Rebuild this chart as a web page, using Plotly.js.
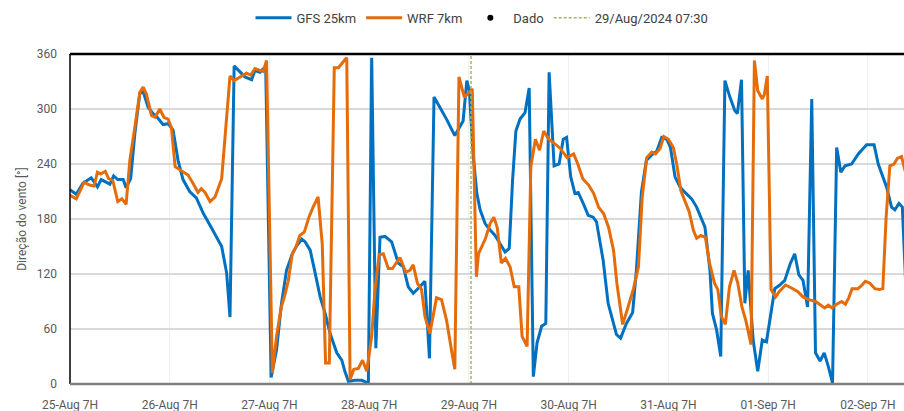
<!DOCTYPE html>
<html>
<head>
<meta charset="utf-8">
<script src="https://cdn.plot.ly/plotly-3.0.1.min.js"></script>
<style>html,body{margin:0;padding:0;background:#fff;}#chart{width:904px;height:411px;}</style>
</head>
<body>
<div id="chart"></div>
<script>
// Hours since 25-Aug-2024 07:00
const gfsHours = [0,1.5,3.1,5.1,6.6,7.5,9.6,10.5,11.5,12.8,13.5,14.6,15.6,16.8,17.6,18.8,20,20.8,22.4,23.6,24.8,26,27.2,28.8,30.4,32.1,34.1,36.5,37.7,38.5,39.5,40.5,42.1,43.7,44.5,45.7,46.5,47.1,48.4,49.7,50.9,52.1,53.5,54.6,55.8,56.6,57.8,59,60.2,61.4,62.6,64.2,65.4,66.2,67,68.6,70.2,71.8,72.6,73.6,74.6,75.8,77.4,79,80.2,81.4,82.6,84.2,85.4,86.5,87.6,89,90.6,92.6,93.8,94.6,95.5,96.1,97,97.9,98.7,99.9,101.1,102.3,103.5,104.7,105.7,106.5,107.3,108.3,109.5,110.5,111.5,112.4,113.5,114.5,115.3,116.5,117.7,118.7,119.5,120.5,121.5,122.3,123.5,124.7,125.9,126.7,128.3,129.5,131.5,132.5,133.9,135.4,136.3,137.5,138.7,140,141.2,142.4,143.6,144.5,145.6,146.8,148,149.6,150.8,152,152.8,154,154.6,155.6,156.6,157.6,158.8,160,160.6,161.6,162.4,163.2,164.4,165.5,166.6,167.6,168.7,169.6,170.8,172,173.3,174.4,175.4,176.4,177.5,178.5,179.4,180.5,181.5,182.5,183.5,184.5,185.5,186.5,188.1,189.7,191.7,193.5,194.5,196.5,197.7,198.5,199.5,200.3,201.2];
const gfsDir = [212,207,219,225,215,223,218,227,223,223,214,224,273,317,319,302,295,292,283,284,277,244,223,210,203,186,170,150,121,73,347,342,335,332,342,340,344,345,7,37,88,124,142,151,158,155,146,121,95,77,55,34,26,13,3,4,4,1,356,39,160,161,155,132,128,106,99,106,112,28,313,302,289,271,280,287,331,320,251,208,190,175,168,162,153,144,148,222,276,289,296,323,8,45,63,66,340,238,240,267,269,226,208,209,197,184,182,177,135,88,54,50,66,78,124,209,244,250,254,269,267,258,226,215,209,202,193,179,171,124,77,59,30,331,313,298,295,332,88,124,48,14,48,46,81,104,108,113,131,142,119,113,84,311,34,25,34,19,1,258,231,238,240,251,261,261,240,215,193,190,197,193,100];

const wrfHours = [0,1.5,3.4,4.7,5.8,6.6,7.4,8.5,9.3,10.3,11.5,12.5,13.5,14.4,15.6,16.8,17.6,18.4,19.6,20.5,21.6,22.6,23.6,24.4,25.3,26.8,28.4,29.6,30.8,31.6,32.5,33.7,34.9,36.5,37.3,38.5,39.5,41.1,42.5,43.5,44.5,45.7,46.5,47.3,48.7,49.7,50.8,51.7,52.5,53.5,54.5,55.3,56.4,57.5,58.5,59.7,60.7,61.5,62.4,63.6,64.6,66.2,66.6,67.4,68.3,69.4,70.4,71.4,72.6,73.4,74.4,75.4,76.6,77.6,79.4,80.8,81.8,82.6,83.6,84.6,85.4,86.6,88.2,89.4,90.6,91.8,92.6,93.6,94.9,96,96.8,97.8,98.3,100,101.1,102,102.8,103.8,104.8,105.9,106.9,108,108.8,110,110.9,112,113,114,115.2,116.4,118,119.6,121.2,122.2,123.4,124.8,126,127.2,128.4,129.6,130.8,131.6,133,134.3,135.6,136.8,137.7,138.8,140,140.9,142,142.9,144,145.2,146,147,148,149,150,150.8,151.8,152.9,153.9,155.1,155.9,156.7,157.7,158.7,159.8,160.7,161.7,162.7,163.9,164.7,165.5,166.6,167.1,167.8,168.7,169.8,170.7,172.2,173.5,175.1,176.4,177.8,179.4,180.6,181.6,182.5,183.4,184.5,185.7,186.6,187.4,188.2,189.6,190.4,191.4,192.5,193.7,194.8,195.6,196.4,197.3,198.3,199.1,200.1,201];
const wrfDir = [206,202,220,217,216,231,229,232,224,222,199,202,196,244,280,318,324,316,293,291,300,291,289,280,237,233,228,219,209,213,209,199,204,224,269,336,331,335,339,337,344,342,341,353,12,52,83,97,112,142,151,162,166,182,193,204,153,23,23,345,345,354,356,5,16,17,26,14,52,103,141,142,126,126,138,122,124,130,110,103,74,55,94,92,70,37,16,335,313,318,322,117,142,159,175,182,171,132,137,128,106,106,52,41,237,267,255,276,267,263,257,247,251,240,224,217,208,193,186,171,146,110,65,84,104,128,204,247,253,251,257,270,267,258,240,211,200,188,168,159,162,160,132,110,103,74,65,106,124,110,84,68,43,353,320,311,316,336,103,95,101,108,105,101,95,92,90,86,83,86,83,87,90,87,94,104,104,107,112,110,104,103,104,182,238,240,246,248,232];

// Observations ("Dado"): none visible in the chart
const obsHours = [null];
const obsDir = [null];

const refHour = 96.5; // 29/Aug/2024 07:30
const tickHours = [0,24,48,72,96,120,144,168,192];
const tickLabels = ['25-Aug 7H','26-Aug 7H','27-Aug 7H','28-Aug 7H','29-Aug 7H','30-Aug 7H','31-Aug 7H','01-Sep 7H','02-Sep 7H'];
const yTicks = [0,60,120,180,240,300,360];

const textColor = '#595959';
const fontFam = 'Roboto, "Liberation Sans", sans-serif';

const traces = [
  {x: gfsHours, y: gfsDir, name: 'GFS 25km', mode: 'lines', line: {color: '#0070C0', width: 3}},
  {x: wrfHours, y: wrfDir, name: 'WRF 7km', mode: 'lines', line: {color: '#E46C0A', width: 3}},
  {x: obsHours, y: obsDir, name: 'Dado', mode: 'markers', marker: {color: '#000', size: 6}, showlegend: true},
  {x: [refHour, refHour], y: [0, 360], name: '29/Aug/2024 07:30', mode: 'lines', line: {color: '#9BBB59', width: 1.5, dash: '3px,2px'}}
];

const layout = {
  width: 904, height: 411,
  margin: {l: 70, r: 0, t: 54, b: 27},
  paper_bgcolor: '#fff', plot_bgcolor: '#fff',
  font: {family: fontFam, color: textColor, size: 12},
  showlegend: true,
  legend: {orientation: 'h', x: 0.494, xanchor: 'center', y: 1.11, yanchor: 'middle', font: {size: 13, color: '#404040'}, bgcolor: 'rgba(0,0,0,0)', itemwidth: 36},
  xaxis: {range: [0, 200.7], tickvals: tickHours, ticktext: tickLabels, showgrid: true, gridcolor: '#efefef', gridwidth: 1, zeroline: false, showline: false, ticks: '', ticklabelstandoff: 12, tickfont: {size: 12, color: textColor}, fixedrange: true},
  yaxis: {range: [0, 360], tickvals: yTicks, showgrid: true, gridcolor: '#d9d9d9', gridwidth: 1.5, zeroline: false, showline: false, ticks: '', ticklabelstandoff: 12, tickfont: {size: 12, color: textColor},
    title: {text: 'Direção do vento [°]', font: {size: 12, color: textColor}, standoff: 7}},
  shapes: [
    {type: 'line', xref: 'paper', yref: 'paper', x0: 0, x1: 1, y0: 1, y1: 1, line: {color: '#000', width: 2.5}},
    {type: 'line', xref: 'paper', yref: 'paper', x0: 0, x1: 0, y0: 0, y1: 1, line: {color: '#000', width: 1.5}},
    {type: 'line', xref: 'paper', yref: 'paper', x0: 0, x1: 1, y0: 0, y1: 0, line: {color: '#7f7f7f', width: 2.5}}
  ]
};

Plotly.newPlot('chart', traces, layout, {displayModeBar: false, staticPlot: true});
</script>
</body>
</html>
